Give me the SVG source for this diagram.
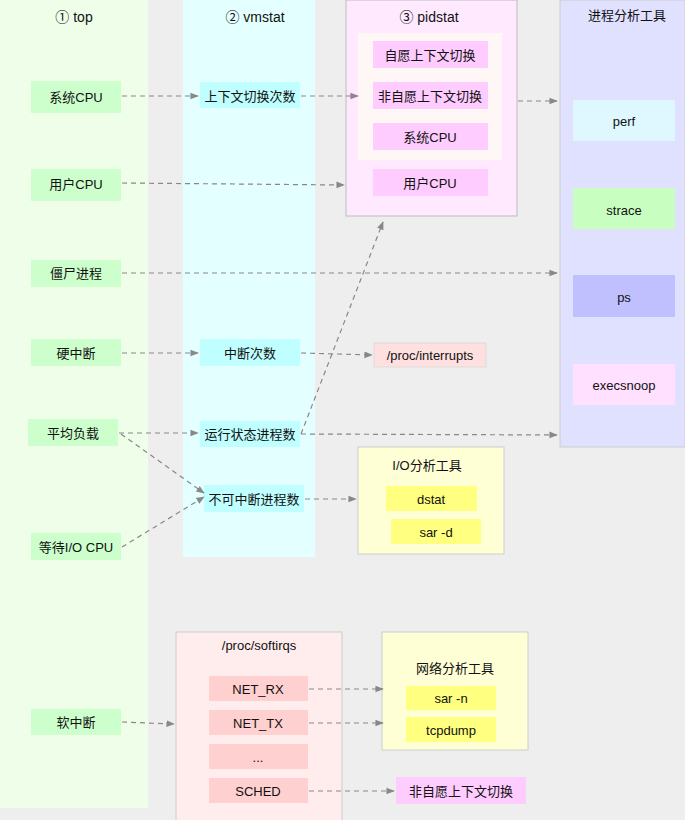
<svg xmlns="http://www.w3.org/2000/svg" width="685" height="820" viewBox="0 0 685 820">
<defs>
<style>
text{font-family:"Liberation Sans","Noto Sans CJK SC",sans-serif;font-size:13px;fill:#111;text-anchor:middle;dominant-baseline:central}
.h{font-size:14px}
.g{fill:#ccffcc}.c{fill:#c0ffff}.p{fill:#ffccff}.y{fill:#ffff80}.r{fill:#ffd0d0}
.e{stroke:#888;stroke-width:1.2;stroke-dasharray:5,4;fill:none;marker-end:url(#a)}
</style>
<marker id="a" viewBox="0 0 10 10" refX="9" refY="5" markerWidth="7" markerHeight="7" orient="auto"><path d="M0,1L10,5L0,9z" fill="#888"/></marker>
</defs>
<rect width="685" height="820" fill="#eeeeee"/>
<g id="col-top"><rect x="0" y="0" width="148" height="808" fill="#eefee9"/><text class="h" x="74" y="17">① top</text></g>
<g id="col-vmstat"><rect x="183" y="0" width="132" height="557" fill="#e3ffff"/><text class="h" x="255" y="17">② vmstat</text></g>
<g id="col-pidstat"><rect x="346" y="0" width="171" height="216" fill="#ffe9ff" stroke="#bbb"/><text class="h" x="429" y="17">③ pidstat</text><rect x="358" y="33" width="144" height="127" fill="#fff6f6"/></g>
<g id="col-tools"><rect x="560" y="0" width="125" height="447" fill="#e0e0ff" stroke="#ccc"/><text x="627" y="15">进程分析工具</text></g>
<g id="n-syscpu"><rect class="g" x="31" y="81" width="90" height="32"/><text x="76" y="97">系统CPU</text></g>
<g id="n-usercpu"><rect class="g" x="31" y="169" width="90" height="32"/><text x="76" y="184">用户CPU</text></g>
<g id="n-zombie"><rect class="g" x="31" y="260" width="90" height="27"/><text x="76" y="273">僵尸进程</text></g>
<g id="n-hardirq"><rect class="g" x="31" y="339" width="90" height="27"/><text x="76" y="353">硬中断</text></g>
<g id="n-load"><rect class="g" x="28" y="419" width="90" height="27"/><text x="73" y="433">平均负载</text></g>
<g id="n-iowait"><rect class="g" x="31" y="533" width="90" height="27"/><text x="76" y="547">等待I/O CPU</text></g>
<g id="n-softirq"><rect class="g" x="31" y="709" width="90" height="26"/><text x="76" y="722">软中断</text></g>
<g id="v-cs"><rect class="c" x="200" y="82" width="100" height="26"/><text x="250" y="96">上下文切换次数</text></g>
<g id="v-irq"><rect class="c" x="200" y="339" width="100" height="27"/><text x="250" y="353">中断次数</text></g>
<g id="v-run"><rect class="c" x="200" y="421" width="100" height="26"/><text x="250" y="434">运行状态进程数</text></g>
<g id="v-unint"><rect class="c" x="204" y="485" width="100" height="27"/><text x="254" y="499">不可中断进程数</text></g>
<g id="p-vol"><rect class="p" x="373" y="41" width="115" height="27"/><text x="430" y="55">自愿上下文切换</text></g>
<g id="p-invol"><rect class="p" x="373" y="82" width="115" height="27"/><text x="430" y="96">非自愿上下文切换</text></g>
<g id="p-sys"><rect class="p" x="373" y="123" width="115" height="27"/><text x="430" y="137">系统CPU</text></g>
<g id="p-user"><rect class="p" x="373" y="169" width="115" height="27"/><text x="430" y="183">用户CPU</text></g>
<g id="t-perf"><rect x="573" y="100" width="102" height="41" fill="#dff8ff"/><text x="624" y="121">perf</text></g>
<g id="t-strace"><rect x="573" y="188" width="102" height="41" fill="#c8ffc0"/><text x="624" y="210">strace</text></g>
<g id="t-ps"><rect x="573" y="275" width="102" height="42" fill="#c0c0ff"/><text x="624" y="297">ps</text></g>
<g id="t-exec"><rect x="573" y="364" width="102" height="41" fill="#ffe0ff"/><text x="624" y="385">execsnoop</text></g>
<g id="n-procint"><rect x="374" y="343" width="112" height="24" fill="#ffe0e0" stroke="#ccc" stroke-width="0.5"/><text x="430" y="355">/proc/interrupts</text></g>
<g id="io-tools"><rect x="358" y="447" width="146" height="107" fill="#ffffd6" stroke="#ccc"/><text x="427" y="465">I/O分析工具</text>
<rect class="y" x="386" y="486" width="91" height="25"/><text x="431" y="499">dstat</text>
<rect class="y" x="391" y="519" width="90" height="25"/><text x="436" y="532">sar -d</text></g>
<g id="softirqs"><rect x="176" y="632" width="166" height="190" fill="#ffecec" stroke="#ccc"/><text x="259" y="645">/proc/softirqs</text>
<rect class="r" x="209" y="676" width="99" height="25"/><text x="258" y="689">NET_RX</text>
<rect class="r" x="209" y="710" width="99" height="25"/><text x="258" y="723">NET_TX</text>
<rect class="r" x="209" y="744" width="99" height="25"/><text x="258" y="757">...</text>
<rect class="r" x="209" y="778" width="99" height="25"/><text x="258" y="791">SCHED</text></g>
<g id="net-tools"><rect x="382" y="632" width="146" height="118" fill="#ffffd6" stroke="#ccc"/><text x="455" y="668">网络分析工具</text>
<rect class="y" x="406" y="686" width="90" height="24"/><text x="451" y="698">sar -n</text>
<rect class="y" x="406" y="717" width="90" height="25"/><text x="451" y="730">tcpdump</text></g>
<g id="n-invol2"><rect class="p" x="396" y="777" width="130" height="27"/><text x="461" y="791">非自愿上下文切换</text></g>
<g id="connectors">
<path class="e" d="M122,96H198"/>
<path class="e" d="M301,96H358"/>
<path class="e" d="M518,101H557"/>
<path class="e" d="M122,183L344,185"/>
<path class="e" d="M122,273H557"/>
<path class="e" d="M122,353H198"/>
<path class="e" d="M301,353L372,355"/>
<path class="e" d="M119,433H198"/>
<path class="e" d="M301,434L557,435"/>
<path class="e" d="M301,434L383,222"/>
<path class="e" d="M121,434L204,493"/>
<path class="e" d="M122,547L204,497"/>
<path class="e" d="M305,499H356"/>
<path class="e" d="M122,722L174,724"/>
<path class="e" d="M309,689H383"/>
<path class="e" d="M309,723H383"/>
<path class="e" d="M309,791H394"/>
</g>
</svg>
